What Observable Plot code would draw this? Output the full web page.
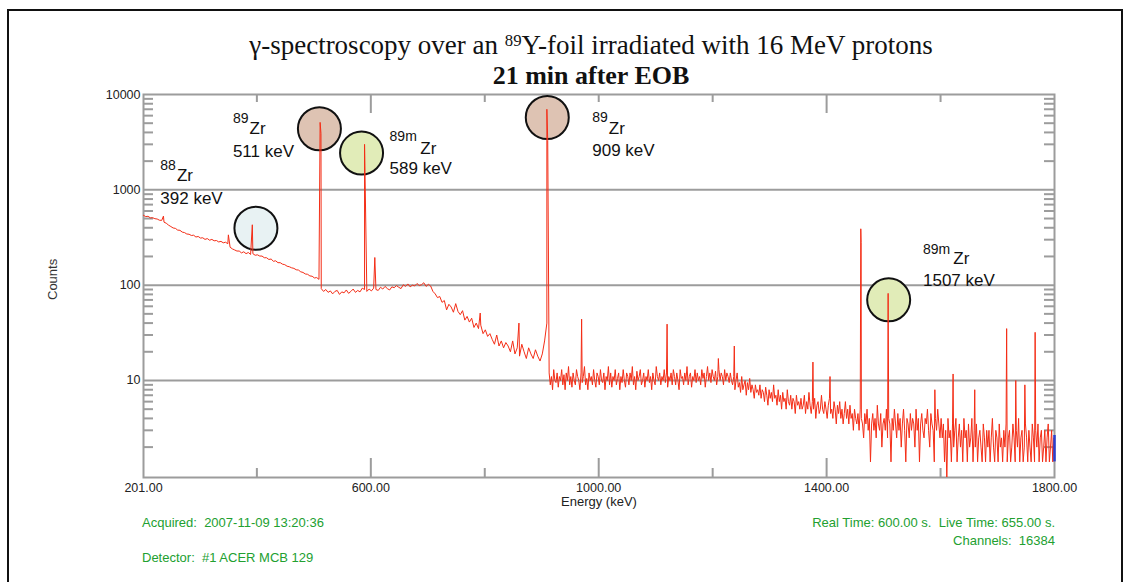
<!DOCTYPE html>
<html>
<head>
<meta charset="utf-8">
<script src="https://cdn.jsdelivr.net/npm/d3@7"></script>
<script src="https://cdn.jsdelivr.net/npm/@observablehq/plot@0.6"></script>
<style>
  body { margin: 0; background: #fff; }
  #wrap { position: relative; width: 1132px; height: 582px; overflow: hidden; font-family: "Liberation Sans", Arial, sans-serif; }
  #border { position: absolute; left: 7px; top: 9px; width: 1112px; height: 620px; border: 2px solid #111; }
  #chart { position: absolute; left: 0; top: 0; }
  .t { position: absolute; white-space: pre; line-height: 1; }
  .title { left: 0; width: 1182px; text-align: center; font-family: "Liberation Serif", "Times New Roman", serif; color: #111; }
  .sup { position: relative; top: -0.45em; font-size: 0.62em; }
  .green { font-size: 13px; color: #22a030; }
</style>
</head>
<body>
<div id="wrap">
  <div id="border"></div>
  <div id="chart"></div>
  <div class="t title" style="top:32px;font-size:27px;">γ-spectroscopy over an <span class="sup">89</span>Y-foil irradiated with 16 MeV protons</div>
  <div class="t title" style="top:63px;font-size:26px;font-weight:bold;">21 min after EOB</div>
  <div class="t green" style="left:142px;top:516px;">Acquired:  2007-11-09 13:20:36</div>
  <div class="t green" style="left:142px;top:551px;">Detector:  #1 ACER MCB 129</div>
  <div class="t green" style="right:77px;top:516px;text-align:right;">Real Time: 600.00 s.  Live Time: 655.00 s.</div>
  <div class="t green" style="right:77px;top:534px;text-align:right;">Channels:  16384</div>
</div>
<script>
// ---- data ----
// continuum below 909 keV, one sample every 4 keV from 201 keV
const lowStart = 201;
const lowStep = 4;
const countsLow = [
  540, 524, 528, 508, 510, 498, 494, 480, 478, 458,
  446, 426, 412, 398, 394, 378, 376, 360, 356, 344,
  342, 332, 334, 320, 324, 312, 314, 302, 308, 296,
  302, 292, 294, 284, 288, 278, 282, 272, 250, 240,
  234, 228, 228, 218, 224, 214, 220, 210, 214, 206,
  208, 202, 202, 194, 194, 186, 188, 178, 180, 172,
  172, 166, 164, 158, 156, 152, 150, 145, 144, 138,
  136, 131, 130, 125, 124, 119, 120, 115, 92, 86,
  90, 84, 87, 81, 86, 88, 80, 85, 83, 89,
  82, 86, 91, 84, 88, 85, 93, 90, 86, 91,
  87, 93, 90, 88, 95, 91, 97, 92, 89, 96,
  94, 99, 95, 92, 101, 97, 103, 96, 100, 98,
  104, 99, 101, 106, 97, 102, 98, 86, 81, 74,
  76, 66, 69, 55, 63, 59, 52, 64, 53, 49,
  54, 43, 47, 41, 45, 36, 40, 35, 38, 31,
  34, 29, 31, 27, 24, 30, 23, 26, 22, 25,
  23, 20, 26, 19, 22, 18, 24, 20, 17, 22,
  19, 17, 21, 18, 16, 19, 26, 40
];
// continuum above 909 keV, one sample every 2 keV from 913 keV
const highStart = 913;
const highStep = 2;
const countsHigh = [
  12, 9, 11, 8, 13, 10, 9.5, 12, 8.5, 11,
  10, 13, 9, 11.5, 8, 12, 10, 14, 9, 11,
  8.5, 12, 10, 9, 13, 11, 10, 8, 12, 9.5,
  11, 14, 9, 10.5, 8, 12, 10, 11, 9, 13,
  10, 8.5, 12, 11, 9, 13, 10, 9.5, 12, 8,
  11, 10, 14, 9, 12, 8.5, 11, 10, 13, 9,
  10.5, 12, 8, 11, 9.5, 13, 10, 8.5, 12, 11,
  9, 12, 10, 14, 9, 11, 8, 12.5, 10, 11,
  13, 9, 10, 12, 8.5, 11, 10, 13, 9.5, 11,
  8, 12, 10, 9, 14, 11, 10, 12, 9, 11,
  10, 13, 9.5, 12, 8.5, 11, 10, 12, 9, 13,
  11, 9, 12, 10, 8, 13, 10.5, 11, 9, 12,
  10, 14, 9, 11, 12, 8.5, 11, 10, 13, 9.5,
  12, 10, 11, 9, 13, 10.5, 12, 8.5, 11, 14,
  10, 12, 9.5, 13, 11, 10, 12.5, 9, 11, 13,
  10, 12, 11, 9, 13, 10, 12, 11, 9.5, 12,
  10,
  9, 11, 8, 10, 12, 8.5, 9.5, 7.5, 11, 8,
  9, 10, 7, 9.5, 8, 10.5, 7.5, 9, 8, 6.5,
  9, 7.5, 8,
  7, 9, 6.5, 8, 7.5, 6, 8.5, 7, 5.5, 8,
  6.5, 7.5, 6, 9, 6.5, 7, 5.5, 8, 6, 7,
  5, 7.5, 6, 6.5, 5, 8, 6, 5.5, 7, 5,
  6.5, 6, 4.5, 7, 5.5, 6, 5,
  6.5, 5, 5.5, 7, 4.5, 6, 5, 7.5, 5.5, 4.5,
  6, 5, 6.5, 4, 5.5, 6, 4.5, 5, 7, 5,
  4.5, 6, 5, 4, 5.5, 6.5, 4.5, 5, 4, 6,
  5, 3.5, 5.5, 4.5, 6, 4, 5, 3.5, 4.5, 6,
  4, 5, 3.5, 5.5, 4, 4.5, 3, 5, 4,
  3.5, 4.5, 3, 5, 4, 3.5, 2.5, 4.5, 3.5, 5,
  3, 4, 1.4, 3.5, 4.5, 3, 4, 2.5, 5.5, 3.5,
  3, 4.5, 2, 3.5, 4, 3, 5, 2.5, 4, 3.5,
  1.4, 4, 3, 5, 3.5, 2.5, 4.5, 3, 4, 2,
  3.5, 5, 3, 1.4, 4, 3.5, 2.5, 4.5, 3, 4,
  3.5, 2, 5, 3, 4, 1.4, 3.5, 4.5, 3, 2.5,
  4, 3.5, 5, 3, 2, 4.5, 3.5, 3, 1.4, 4,
  3, 5, 3.5, 2.5, 4,
  2.5, 3.5, 1.4, 3, 0.9, 4, 2.5, 3, 1.4, 3.5,
  2, 3, 4, 1.4, 2.5, 3.5, 2, 3, 1.4, 4,
  2.5, 3, 1.4, 3.5, 2, 2.5, 4, 1.4, 3, 2,
  3.5, 1.4, 2.5, 3, 2, 1.4, 3.5, 2.5, 1.4, 3,
  2, 3, 1.4, 2.5, 4, 2, 1.4, 3, 2.5, 1.4,
  3.5, 2, 2.5, 1.4, 3, 2, 3.5, 1.4, 2.5, 3,
  1.4, 2, 3.5, 2.5, 1.4, 3, 2, 4, 1.4, 2.5,
  3, 1.4, 2, 3.5, 2.5, 1.4, 3, 2, 1.4, 3.5,
  2.5, 1.4, 3, 2, 3.5, 1.4, 2.5, 3, 1.4, 2,
  3, 1.4, 2.5, 3.5, 1.4, 2, 3, 1.4, 2.5, 2
];
const peakEnergy = [236, 350, 392, 511, 512.5, 589, 607, 792, 860, 909, 910.5, 970, 1120, 1210, 1238, 1376, 1406, 1460, 1460.6, 1508, 1590, 1622, 1660, 1716, 1732, 1748, 1766];
const peakCounts = [530, 337, 430, 5100, 3900, 3000, 195, 51, 40, 7000, 3300, 44, 39, 17, 23, 15.6, 11, 390, 280, 82, 8, 11.7, 8, 35, 10, 9, 32];

const yTicks = [10, 100, 1000, 10000];
const yGrid = [10, 100, 1000];
const yMinor = [2,3,4,5,6,7,8,9,20,30,40,50,60,70,80,90,200,300,400,500,600,700,800,900,2000,3000,4000,5000,6000,7000,8000,9000];
const xTicks = [201, 600, 1000, 1400, 1800];
const xMinor = [400, 800, 1200, 1600];
const markerEnergy = [1800];
const markerLow = [1.4];
const markerHigh = [2.65];

const annotEnergy = [392, 511, 589, 909, 1507];
const annotCounts = [430, 5100, 3000, 7000, 82];
const annotMass = ["88", "89", "89m", "89", "89m"];
const annotElement = ["Zr", "Zr", "Zr", "Zr", "Zr"];
const annotLabel = ["392 keV", "511 keV", "589 keV", "909 keV", "1507 keV"];

// ---- styling / layout ----
const annotFill = ["#e8f2f3", "#dec3b3", "#e1ecb8", "#dec3b3", "#e1ecb8"];
// pixel offsets relative to each annotated peak top: circle (c), keV text (t), mass number (m), element (z)
const annotLayout = [
  {cdx: 3.6, cdy: 3.5, tdx: -92, tdy: -26.7, mdy: -58.9, zdx: -75.4, zdy: -49.2},
  {cdx: -0.7, cdy: 6.4, tdx: -87.2, tdy: 28.9, mdy: -3.9, zdx: -70.6, zdy: 6.4},
  {cdx: -3, cdy: 8.7, tdx: 25, tdy: 24, mdy: -8, zdx: 55.7, zdy: 4.5},
  {cdx: 0.4, cdy: 8.2, tdx: 45.4, tdy: 41.2, mdy: 8.2, zdx: 62, zdy: 19.2},
  {cdx: 1.1, cdy: 6.5, tdx: 35.4, tdy: -12.5, mdy: -44.3, zdx: 65.7, zdy: -34.5}
];

const W = 1132, H = 582, mL = 143, mR = 78, mT = 94, mB = 105;
const innerW = W - mL - mR, innerH = H - mT - mB;

const spectrum = countsLow.map((c, i) => ({energy: lowStart + i * lowStep, counts: c}))
  .concat(countsHigh.map((c, i) => ({energy: highStart + i * highStep, counts: c})))
  .concat(peakEnergy.map((e, i) => ({energy: e, counts: peakCounts[i]})))
  .sort((a, b) => a.energy - b.energy);

const annots = annotEnergy.map((e, i) => ({energy: e, counts: annotCounts[i], mass: annotMass[i], element: annotElement[i], label: annotLabel[i], fill: annotFill[i]}));

const gridColor = "#9c9c9c";
const marks = [
  Plot.ruleY(yGrid, {stroke: gridColor, strokeWidth: 2}),
  Plot.tickY(yMinor, {y: d => d, insetRight: innerW - 10, stroke: gridColor, strokeWidth: 2}),
  Plot.tickY(yMinor, {y: d => d, insetLeft: innerW - 10, stroke: gridColor, strokeWidth: 2}),
  Plot.tickX([400, 800, 1000, 1200, 1600], {x: d => d, insetBottom: innerH - 8, stroke: gridColor, strokeWidth: 2}),
  Plot.tickX([600, 1400], {x: d => d, insetBottom: innerH - 19, stroke: gridColor, strokeWidth: 2}),
  Plot.tickX(xMinor, {x: d => d, insetTop: innerH - 9, stroke: gridColor, strokeWidth: 2}),
  Plot.tickX([600, 1000, 1400], {x: d => d, insetTop: innerH - 19, stroke: gridColor, strokeWidth: 2}),
  Plot.frame({stroke: gridColor, strokeWidth: 2}),
  Plot.axisY({ticks: yTicks, tickSize: 0, tickPadding: 3, tickFormat: d => String(d), label: null, fontSize: 12.5, fill: "#222"}),
  Plot.axisX({ticks: xTicks, tickSize: 0, tickPadding: 6, tickFormat: d => d.toFixed(2), label: null, fontSize: 12.5, fill: "#222"}),
  Plot.text(["Counts"], {frameAnchor: "left", dx: -91, dy: 14, rotate: -90, fontSize: 13, fill: "#333"}),
  Plot.text(["Energy (keV)"], {frameAnchor: "bottom", dy: 28, fontSize: 13, fill: "#222"})
];
annots.forEach((a, i) => {
  const L = annotLayout[i];
  marks.push(Plot.dot([a], {x: "energy", y: "counts", r: 21.5, dx: L.cdx, dy: L.cdy, fill: a.fill, stroke: "#111", strokeWidth: 2}));
});
marks.push(Plot.line(spectrum, {x: "energy", y: "counts", stroke: "#f42d16", strokeWidth: 1, clip: true}));
marks.push(Plot.ruleX(markerEnergy, {x: d => d, y1: (d, i) => markerLow[i], y2: (d, i) => markerHigh[i], stroke: "#2a3fd0", strokeWidth: 2.5}));
annots.forEach((a, i) => {
  const L = annotLayout[i];
  marks.push(Plot.text([a], {x: "energy", y: "counts", text: "label", dx: L.tdx, dy: L.tdy, textAnchor: "start", fontSize: 17, fill: "#111"}));
  marks.push(Plot.text([a], {x: "energy", y: "counts", text: "mass", dx: L.tdx, dy: L.mdy, textAnchor: "start", fontSize: 14, fill: "#111"}));
  marks.push(Plot.text([a], {x: "energy", y: "counts", text: "element", dx: L.zdx, dy: L.zdy, textAnchor: "start", fontSize: 17, fill: "#111"}));
});

const chart = Plot.plot({
  width: W, height: H,
  marginLeft: mL, marginRight: mR, marginTop: mT, marginBottom: mB,
  style: {fontFamily: "Liberation Sans, Arial, sans-serif", background: "transparent", overflow: "visible"},
  x: {type: "linear", domain: [201, 1800]},
  y: {type: "log", domain: [0.96, 10000]},
  marks
});
document.getElementById("chart").appendChild(chart);
</script>
</body>
</html>
